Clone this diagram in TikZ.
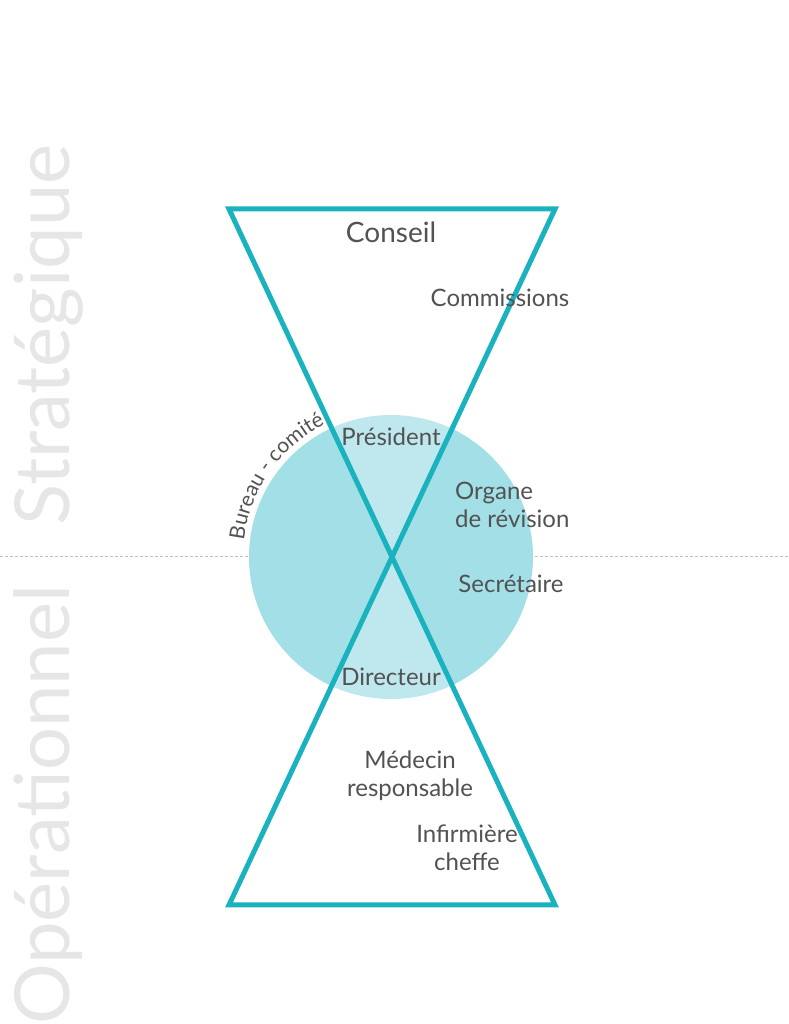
\documentclass[tikz,border=0pt]{standalone}
\usepackage{fontspec}
\setmainfont{Lato}
\usetikzlibrary{decorations.text}
\definecolor{hourglass}{HTML}{1AB2BE}
\definecolor{circlefill}{HTML}{A2DFE6}
\definecolor{labelgray}{HTML}{525252}
\definecolor{sidegray}{HTML}{E6E6E6}
\tikzset{%
	% Specifications for style of nodes:
	base/.style = {inner sep=0pt, text=labelgray, align=center,
		font=\fontsize{24}{28}\selectfont},
	title/.style = {base, font=\fontsize{28}{32}\selectfont},
	side/.style = {inner sep=0pt, rotate=90, anchor=base, text=sidegray,
		font=\fontsize{76}{76}\selectfont},
	frame/.style = {draw=hourglass, line width=5pt, line join=miter},
	divider/.style = {draw=gray!50, line width=1pt, dash pattern=on 3pt off 2pt},
}
\begin{document}
\begin{tikzpicture}[x=1pt, y=1pt]
	\useasboundingbox (0,0) rectangle (788,1024);
	
	\coordinate (tl) at (229,815);
	\coordinate (tr) at (555,815);
	\coordinate (bl) at (229,119);
	\coordinate (br) at (555,119);
	\coordinate (mid) at (391,467);
	
	\node (strat) [side] at (69,689) {Stratégique};
	\node (oper) [side] at (69,219) {Opérationnel};
	\draw [divider] (0,467) -- (788,467);
	
	\fill [circlefill] (mid) circle [radius=142];
	\fill [white, fill opacity=0.3] (br) -- (tl) -- (tr) -- (bl) -- cycle;
	\draw [frame] (br) -- (tl) -- (tr) -- (bl) -- cycle;
	
	% curved label round the circle
	\path [decorate, decoration={text along path, text align=center,
		text={|\fontsize{21}{21}\selectfont\color{labelgray}|Bureau - comité}}]
	(mid) ++(176:148) arc [start angle=176, end angle=114, radius=148];
	
	\node (conseil) [title] at (391,792) {Conseil};
	\node (commissions) [base] at (500,726) {Commissions};
	\node (president) [base] at (391,587) {Président};
	\node (organe) [base, align=left, anchor=west] at (455,519) {Organe\\de révision};
	\node (secretaire) [base] at (511,440) {Secrétaire};
	\node (directeur) [base] at (391,347) {Directeur};
	\node (medecin) [base] at (410,248) {Médecin\\responsable};
	\node (infirmiere) [base] at (467,176) {Infirmière\\cheffe};
\end{tikzpicture}
\end{document}
